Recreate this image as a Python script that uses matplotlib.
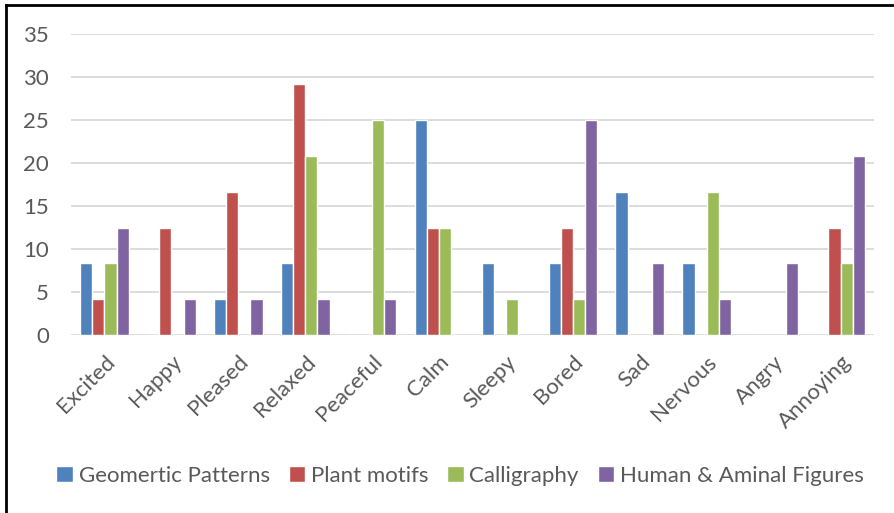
import numpy as np
import matplotlib.pyplot as plt
from matplotlib.lines import Line2D

plt.rcParams['font.family'] = ['Lato', 'DejaVu Sans']

emotions = ['Excited', 'Happy', 'Pleased', 'Relaxed', 'Peaceful', 'Calm',
            'Sleepy', 'Bored', 'Sad', 'Nervous', 'Angry', 'Annoying']
series_names = ['Geomertic Patterns', 'Plant motifs', 'Calligraphy',
                'Human & Aminal Figures']
geometric = [8.33, 0, 4.17, 8.33, 0, 25, 8.33, 8.33, 16.67, 8.33, 0, 0]
plant = [4.17, 12.5, 16.67, 29.17, 0, 12.5, 0, 12.5, 0, 0, 0, 12.5]
calligraphy = [8.33, 0, 0, 20.83, 25, 12.5, 4.17, 4.17, 0, 16.67, 0, 8.33]
human = [12.5, 4.17, 4.17, 4.17, 4.17, 0, 0, 25, 8.33, 4.17, 8.33, 20.83]
colors = ['#4F81BD', '#C0504D', '#9BBB59', '#8064A2']

fig = plt.figure(figsize=(8.95, 5.13), dpi=100)
ax = fig.add_axes([71 / 895, 1 - 335 / 513, 803 / 895, 301 / 513])

x = np.arange(len(emotions))
step = 0.182
for i, (vals, name, c) in enumerate(zip([geometric, plant, calligraphy, human],
                                        series_names, colors)):
    ax.bar(x + (i - 1.5) * step, vals, width=step, color=c, edgecolor='white',
           linewidth=1.0, label=name, zorder=3)

ax.set_xlim(-0.5, len(emotions) - 0.5)
ax.set_ylim(0, 35)
ax.set_yticks(range(0, 36, 5))
ax.yaxis.grid(True, color='#D9D9D9', linewidth=1.3, zorder=0)
ax.set_axisbelow(True)
for s in ax.spines.values():
    s.set_visible(False)
ax.tick_params(axis='both', length=0, colors='#595959', labelsize=16)
ax.tick_params(axis='y', pad=16)
ax.set_xticks(x)
ax.set_xticklabels(emotions, rotation=45, ha='right', rotation_mode='anchor',
                   fontsize=16)
ax.tick_params(axis='x', pad=12)

fig.legend(loc='center', bbox_to_anchor=(460 / 895, 1 - 476 / 513), ncol=4,
           frameon=False, fontsize=16, handlelength=0.75, handleheight=0.75,
           handletextpad=0.25, columnspacing=0.85, labelcolor='#595959')

# frame lines on the top and left edge
fig.add_artist(Line2D([6 / 895, 1], [1 - 5 / 513, 1 - 5 / 513],
                      color='black', linewidth=2))
fig.add_artist(Line2D([6 / 895, 6 / 895], [0, 1 - 5 / 513],
                      color='black', linewidth=2))

fig.savefig('out.png', dpi=100)
